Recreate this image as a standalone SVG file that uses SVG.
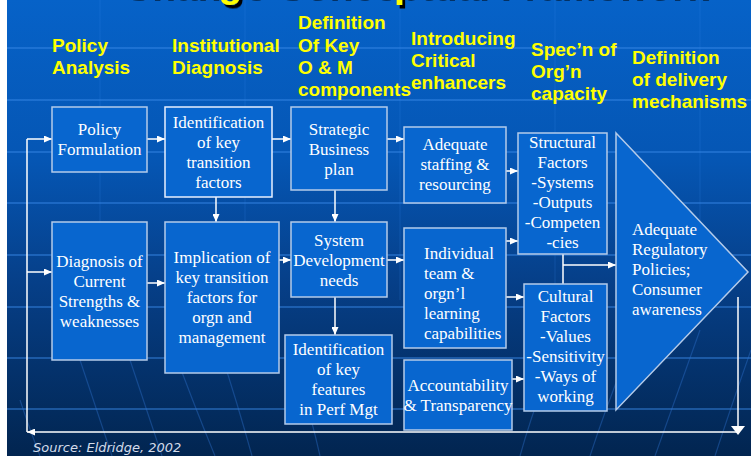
<svg xmlns="http://www.w3.org/2000/svg" width="751" height="456" viewBox="0 0 751 456">
<defs>
<linearGradient id="bgGrad" x1="0" y1="0" x2="0" y2="1">
<stop offset="0" stop-color="#0662c8"/>
<stop offset="0.35" stop-color="#0556b4"/>
<stop offset="0.62" stop-color="#063f88"/>
<stop offset="1" stop-color="#022550"/>
</linearGradient>
<filter id="shadow" x="-5%" y="-20%" width="110%" height="160%">
<feDropShadow dx="3" dy="3.5" stdDeviation="0" flood-color="#000000" flood-opacity="1"/>
</filter>
<marker id="arr" viewBox="0 0 8 7" refX="8" refY="3.5" markerWidth="8" markerHeight="7" markerUnits="userSpaceOnUse" orient="auto">
<path d="M0,0 L8,3.5 L0,7 z" fill="#ffffff"/>
</marker>
<style>
.gl{stroke:#3a8ae8;stroke-opacity:.45;stroke-width:2}
.vl{stroke:#3a8ae8;stroke-opacity:.15;stroke-width:1.5}
.dg{stroke:#2f74d0;stroke-opacity:.4;stroke-width:1.2;fill:none}
.box{fill:#0866cf;stroke:#b4cbea;stroke-width:1.5}
.nt{font-family:"Liberation Serif","Times New Roman",serif;font-size:17px;fill:#ffffff;text-anchor:middle}
.ntl{font-family:"Liberation Serif","Times New Roman",serif;font-size:17px;fill:#ffffff}
.hd{font-family:"Liberation Sans",Arial,sans-serif;font-weight:bold;font-size:19px;fill:#ffff00}
.ttl{font-family:"Liberation Sans",Arial,sans-serif;font-weight:bold;font-size:39px;fill:#ffff00}
.c{stroke:#ffffff;stroke-width:1.5;fill:none}
</style>
</defs>
<g id="background">
<rect x="0" y="0" width="751" height="456" fill="#ffffff"/>
<rect x="7" y="0" width="744" height="456" fill="url(#bgGrad)"/>
<line class="gl" x1="7" y1="48" x2="751" y2="48"/>
<line class="gl" x1="7" y1="100" x2="751" y2="100"/>
<line class="gl" x1="7" y1="152" x2="751" y2="152"/>
<line class="gl" x1="7" y1="203" x2="751" y2="203"/>
<line class="gl" x1="7" y1="255" x2="751" y2="255"/>
<line class="gl" x1="7" y1="307" x2="751" y2="307"/>
<line class="gl" x1="7" y1="358" x2="751" y2="358"/>
<line class="gl" x1="7" y1="409" x2="751" y2="409"/>
<line class="vl" x1="100" y1="0" x2="100" y2="300"/>
<line class="vl" x1="245" y1="0" x2="245" y2="300"/>
<line class="vl" x1="400" y1="0" x2="400" y2="300"/>
<line class="vl" x1="555" y1="0" x2="555" y2="300"/>
<line class="vl" x1="700" y1="0" x2="700" y2="300"/>
<path class="dg" d="M20,400 Q30,430 40,456"/>
<path class="dg" d="M70,330 Q90,390 112,456"/>
<path class="dg" d="M120,330 Q140,390 162,456"/>
<path class="dg" d="M170,340 Q192,400 215,456"/>
<path class="dg" d="M220,350 Q238,405 252,456"/>
<path class="dg" d="M300,380 Q312,420 320,456"/>
<path class="dg" d="M520,456 Q530,420 545,380"/>
<path class="dg" d="M590,456 Q605,410 625,360"/>
<path class="dg" d="M655,456 Q675,400 700,330"/>
<path class="dg" d="M715,456 Q730,410 751,350"/>
</g>
<g id="title">
<text class="ttl" x="121" y="-3.5" filter="url(#shadow)">Change Conceptual Framework</text>
</g>
<g id="headers">
<text class="hd" x="52" y="52">Policy</text>
<text class="hd" x="52" y="74">Analysis</text>
<text class="hd" x="172" y="52">Institutional</text>
<text class="hd" x="172" y="74">Diagnosis</text>
<text class="hd" x="298" y="29">Definition</text>
<text class="hd" x="298" y="52">Of Key</text>
<text class="hd" x="298" y="74">O &amp; M</text>
<text class="hd" x="298" y="96">components</text>
<text class="hd" x="411" y="45">Introducing</text>
<text class="hd" x="411" y="67">Critical</text>
<text class="hd" x="411" y="89">enhancers</text>
<text class="hd" x="531" y="56">Spec’n of</text>
<text class="hd" x="531" y="78">Org’n</text>
<text class="hd" x="531" y="100">capacity</text>
<text class="hd" x="632" y="64">Definition</text>
<text class="hd" x="632" y="86">of delivery</text>
<text class="hd" x="632" y="108">mechanisms</text>
</g>
<g id="connectors">
<path class="c" d="M738,297 V433"/>
<path d="M731,426 L738,435 L745,426 z" fill="#ffffff"/>
<path class="c" d="M738,432 H27" marker-end="url(#arr)"/>
<path class="c" d="M27,432 V139"/>
<path class="c" d="M27,139 H52" marker-end="url(#arr)"/>
<path class="c" d="M27,272 H52" marker-end="url(#arr)"/>
<path class="c" d="M147,139 H165" marker-end="url(#arr)"/>
<path class="c" d="M272,139 H291" marker-end="url(#arr)"/>
<path class="c" d="M387,139 H404" marker-end="url(#arr)"/>
<path class="c" d="M216,197 V222" marker-end="url(#arr)"/>
<path class="c" d="M335,190 V222" marker-end="url(#arr)"/>
<path class="c" d="M147,283 H165" marker-end="url(#arr)"/>
<path class="c" d="M279,260 H291" marker-end="url(#arr)"/>
<path class="c" d="M387,260 H404" marker-end="url(#arr)"/>
<path class="c" d="M335,297 V335" marker-end="url(#arr)"/>
<path class="c" d="M506,171 H518" marker-end="url(#arr)"/>
<path class="c" d="M506,241 H518" marker-end="url(#arr)"/>
<path class="c" d="M506,297 H524" marker-end="url(#arr)"/>
<path class="c" d="M512,379 H524" marker-end="url(#arr)"/>
<path class="c" d="M563,254 V284"/>
<path class="c" d="M563,265 H616" marker-end="url(#arr)"/>
</g>
<g id="policy-formulation">
<rect class="box" x="52" y="107" width="95" height="65"/>
<text class="nt" x="99.5" y="135">Policy</text>
<text class="nt" x="99.5" y="155">Formulation</text>
</g>
<g id="identification-transition">
<rect class="box" x="165" y="107" width="107" height="90" style="stroke:#e8f0ff"/>
<text class="nt" x="218.5" y="128">Identification</text>
<text class="nt" x="218.5" y="148">of key</text>
<text class="nt" x="218.5" y="168">transition</text>
<text class="nt" x="218.5" y="188">factors</text>
</g>
<g id="strategic-business-plan">
<rect class="box" x="291" y="107" width="96" height="83"/>
<text class="nt" x="339" y="135">Strategic</text>
<text class="nt" x="339" y="155">Business</text>
<text class="nt" x="339" y="175">plan</text>
</g>
<g id="diagnosis">
<rect class="box" x="52" y="222" width="95" height="138"/>
<text class="nt" x="99.5" y="267">Diagnosis of</text>
<text class="nt" x="99.5" y="287">Current</text>
<text class="nt" x="99.5" y="307">Strengths &amp;</text>
<text class="nt" x="99.5" y="327">weaknesses</text>
</g>
<g id="implication">
<rect class="box" x="165" y="222" width="114" height="151"/>
<text class="nt" x="222" y="263">Implication of</text>
<text class="nt" x="222" y="283">key transition</text>
<text class="nt" x="222" y="303">factors for</text>
<text class="nt" x="222" y="323">orgn and</text>
<text class="nt" x="222" y="343">management</text>
</g>
<g id="system-development">
<rect class="box" x="291" y="222" width="96" height="75"/>
<text class="nt" x="339" y="246">System</text>
<text class="nt" x="339" y="266">Development</text>
<text class="nt" x="339" y="286">needs</text>
</g>
<g id="identification-features">
<rect class="box" x="285" y="335" width="107" height="89"/>
<text class="nt" x="338.5" y="355">Identification</text>
<text class="nt" x="338.5" y="375">of key</text>
<text class="nt" x="338.5" y="395">features</text>
<text class="nt" x="338.5" y="415">in Perf Mgt</text>
</g>
<g id="adequate-staffing">
<rect class="box" x="404" y="127" width="102" height="76"/>
<text class="nt" x="455" y="150">Adequate</text>
<text class="nt" x="455" y="170">staffing &amp;</text>
<text class="nt" x="455" y="190">resourcing</text>
</g>
<g id="individual-learning">
<rect class="box" x="404" y="228" width="102" height="120"/>
<text class="ntl" x="424" y="259">Individual</text>
<text class="ntl" x="424" y="279">team &amp;</text>
<text class="ntl" x="424" y="299">orgn’l</text>
<text class="ntl" x="424" y="319">learning</text>
<text class="ntl" x="424" y="339">capabilities</text>
</g>
<g id="accountability">
<rect class="box" x="404" y="360" width="108" height="70"/>
<text class="nt" x="458" y="391">Accountability</text>
<text class="nt" x="458" y="411">&amp; Transparency</text>
</g>
<g id="structural-factors">
<rect class="box" x="518" y="133" width="89" height="121"/>
<text class="nt" x="562.5" y="148">Structural</text>
<text class="nt" x="562.5" y="168">Factors</text>
<text class="nt" x="562.5" y="188">-Systems</text>
<text class="nt" x="562.5" y="208">-Outputs</text>
<text class="nt" x="562.5" y="228">-Competen</text>
<text class="nt" x="562.5" y="248">-cies</text>
</g>
<g id="cultural-factors">
<rect class="box" x="524" y="284" width="83" height="127"/>
<text class="nt" x="565.5" y="302">Cultural</text>
<text class="nt" x="565.5" y="322">Factors</text>
<text class="nt" x="565.5" y="342">-Values</text>
<text class="nt" x="565.5" y="362">-Sensitivity</text>
<text class="nt" x="565.5" y="382">-Ways of</text>
<text class="nt" x="565.5" y="402">working</text>
</g>
<g id="delivery-mechanisms">
<polygon class="box" points="616,133 748,272 616,410"/>
<text class="ntl" x="632" y="235">Adequate</text>
<text class="ntl" x="632" y="255">Regulatory</text>
<text class="ntl" x="632" y="275">Policies;</text>
<text class="ntl" x="632" y="295">Consumer</text>
<text class="ntl" x="632" y="315">awareness</text>
</g>
<g id="source">
<text x="33" y="452" style="font-family:'DejaVu Sans',Verdana,sans-serif;font-style:italic;font-size:13px;fill:#d4dcea">Source: Eldridge, 2002</text>
</g>
</svg>
